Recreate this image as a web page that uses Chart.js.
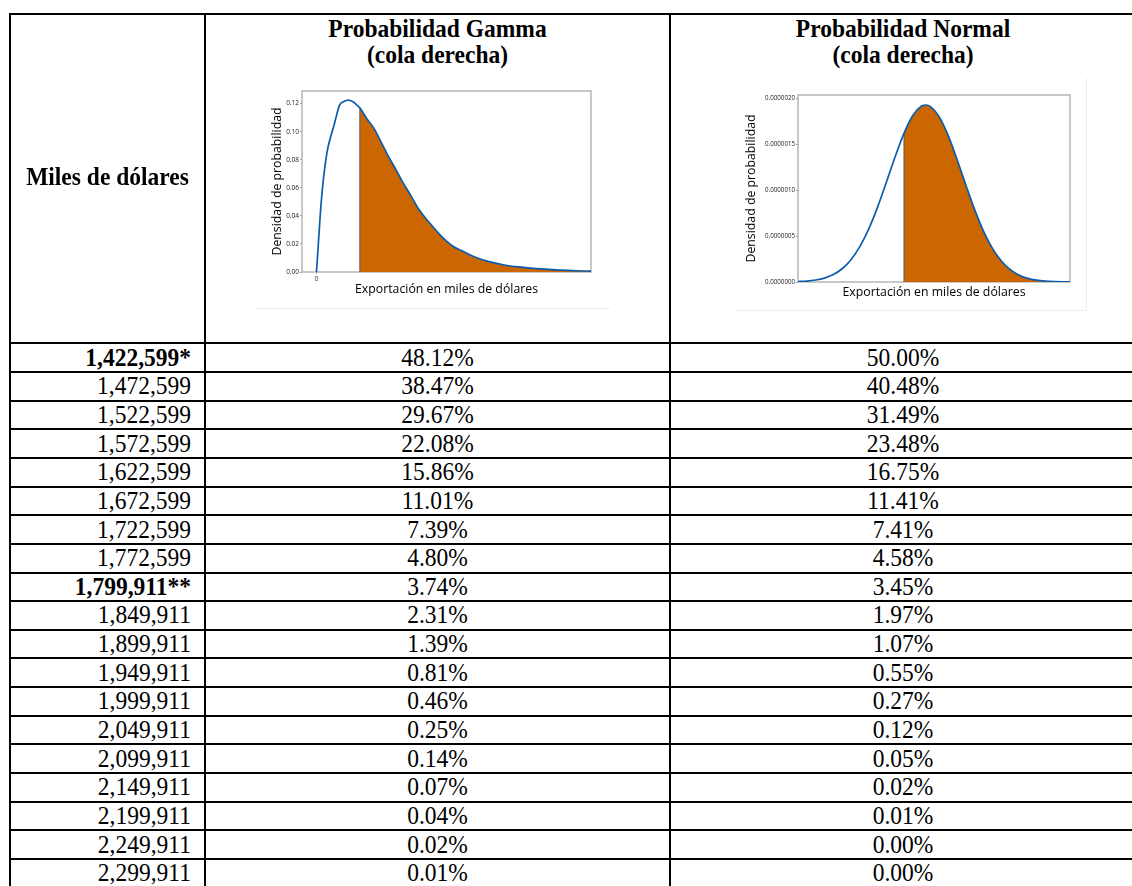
<!DOCTYPE html>
<html>
<head>
<meta charset="utf-8">
<script src="https://cdn.jsdelivr.net/npm/chart.js@4.4.1/dist/chart.umd.min.js"></script>
<style>
html, body { margin: 0; padding: 0; background: #fff; }
body { position: relative; width: 1132px; height: 886px; overflow: hidden; }
.h, .v { position: absolute; background: #000; }
.t { position: absolute; font-family: 'Liberation Serif', 'Times New Roman', serif; font-size: 23.5px; line-height: 23.5px;
     white-space: nowrap; color: #000; transform: scaleY(1.1); transform-origin: 0 19.7px; }
.b { font-weight: bold; }
#gw { position: absolute; left: 256px; top: 84px; width: 354px; height: 224px; border-bottom: 1px solid #ededed; }
#nw { position: absolute; left: 736px; top: 78px; width: 350px; height: 232px; border-right: 1px solid #ededed; border-bottom: 1px solid #ededed; }
</style>
</head>
<body>
<div id="gw"><canvas id="gamma" width="354" height="224"></canvas></div>
<div id="nw"><canvas id="normal" width="350" height="232"></canvas></div>
<script>
// tabla
var montos = [1422599, 1472599, 1522599, 1572599, 1622599, 1672599, 1722599, 1772599, 1799911, 1849911,
              1899911, 1949911, 1999911, 2049911, 2099911, 2149911, 2199911, 2249911, 2299911];
var marcas = {0: '*', 8: '**'};
var probGamma = [48.12, 38.47, 29.67, 22.08, 15.86, 11.01, 7.39, 4.80, 3.74, 2.31,
                 1.39, 0.81, 0.46, 0.25, 0.14, 0.07, 0.04, 0.02, 0.01];
var probNormal = [50.00, 40.48, 31.49, 23.48, 16.75, 11.41, 7.41, 4.58, 3.45, 1.97,
                  1.07, 0.55, 0.27, 0.12, 0.05, 0.02, 0.01, 0.00, 0.00];

// curva gamma (unidades del eje, densidad)
var gammaX = [0, 0.1, 0.2, 0.3, 0.4, 0.5, 0.65, 0.8, 1.0, 1.2, 1.4, 1.6, 1.9, 2.2, 2.5, 2.8, 3.0, 3.5, 4.0, 4.5,
              5.0, 5.5, 6.0, 6.5, 7.0, 7.5, 8.0, 8.5, 9.0, 9.5, 10, 11, 12, 13, 14, 15, 16, 17, 18, 19];
var gammaY = [0, 0.015, 0.031, 0.046, 0.058, 0.068, 0.080, 0.089, 0.097, 0.104, 0.112, 0.119, 0.1215, 0.1225, 0.1215, 0.119, 0.117, 0.109, 0.102, 0.092,
              0.082, 0.073, 0.0635, 0.055, 0.046, 0.039, 0.033, 0.027, 0.022, 0.018, 0.0155, 0.0105, 0.0072, 0.0050, 0.0036, 0.0026, 0.0019, 0.0013, 0.0009, 0.0006];
var gammaCorte = 3.0;

// curva normal (miles de dolares, densidad x 10^-6)
var normalX = [700000, 750000, 800000, 850000, 900000, 950000, 1000000, 1050000, 1100000, 1150000, 1200000, 1250000,
               1300000, 1350000, 1400000, 1425000, 1450000, 1500000, 1550000, 1600000, 1650000, 1700000, 1750000, 1800000,
               1850000, 1900000, 1950000, 2000000, 2050000, 2100000, 2150000, 2200000, 2240000];
var normalY = [0.0045, 0.0101, 0.0214, 0.0428, 0.081, 0.144, 0.242, 0.385, 0.575, 0.813, 1.084, 1.364,
               1.619, 1.813, 1.916, 1.927, 1.910, 1.798, 1.596, 1.337, 1.057, 0.788, 0.555, 0.369,
               0.231, 0.137, 0.076, 0.040, 0.020, 0.0093, 0.0041, 0.0017, 0.0008];
var normalCorte = 1300000;

// --- dibujar la tabla ---
var filaTop = 343.3, filaAlto = 28.65;
function linea(cls, x, y, w, h) {
  var d = document.createElement('div');
  d.className = cls;
  d.style.left = Math.round(x) + 'px'; d.style.top = Math.round(y) + 'px';
  d.style.width = w + 'px'; d.style.height = h + 'px';
  document.body.appendChild(d);
}
function texto(s, x, base, alinear, negrita) {
  var d = document.createElement('div');
  d.className = 't' + (negrita ? ' b' : '');
  d.textContent = s;
  d.style.top = (base - 19.7) + 'px';
  if (alinear == 'right') { d.style.left = '0px'; d.style.width = x + 'px'; d.style.textAlign = 'right'; }
  else { d.style.left = (x - 200) + 'px'; d.style.width = '400px'; d.style.textAlign = 'center'; }
  document.body.appendChild(d);
}
linea('h', 9, 13, 1130, 2);
for (var i = 0; i < montos.length; i++) linea('h', 9, filaTop + i * filaAlto - 1, 1130, 2);
[9, 204, 669].forEach(function(x) { linea('v', x, 13, 2, 880); });

texto('Miles de dólares', 107.5, 186, 'center', true);
texto('Probabilidad Gamma', 437.5, 37.3, 'center', true);
texto('(cola derecha)', 437.5, 63.5, 'center', true);
texto('Probabilidad Normal', 903, 37.3, 'center', true);
texto('(cola derecha)', 903, 63.5, 'center', true);
montos.forEach(function(m, i) {
  var base = filaTop + i * filaAlto + 23;
  texto(m.toLocaleString('en-US') + (marcas[i] || ''), 191, base, 'right', i in marcas);
  texto(probGamma[i].toFixed(2) + '%', 437.5, base, 'center', false);
  texto(probNormal[i].toFixed(2) + '%', 903, base, 'center', false);
});

// --- graficos ---
var marco = {
  id: 'marco',
  beforeDatasetsDraw: function(chart) {
    var a = chart.chartArea, ctx = chart.ctx;
    ctx.save();
    ctx.strokeStyle = '#a4a4a4';
    ctx.lineWidth = 1.2;
    ctx.strokeRect(a.left, a.top, a.right - a.left, a.bottom - a.top);
    ctx.restore();
  }
};

function grafico(id, xs, ys, corte, o) {
  var puntos = xs.map(function(x, i) { return {x: x, y: ys[i] * o.escala}; });
  var cola = puntos.filter(function(p) { return p.x >= corte; });
  var yCorte = cola[0].y;
  return new Chart(id, {
    type: 'line',
    data: {
      datasets: [
        {data: puntos, borderColor: '#0b5cad', borderWidth: 1.7, pointRadius: 0, fill: false, cubicInterpolationMode: 'monotone'},
        {data: [{x: corte, y: 0}, {x: corte, y: yCorte}], borderColor: '#5c5c5c', borderWidth: 1, pointRadius: 0, fill: false},
        {data: cola, borderColor: 'rgba(0,0,0,0)', borderWidth: 0, backgroundColor: '#cc6600', pointRadius: 0, fill: 'origin', cubicInterpolationMode: 'monotone'}
      ]
    },
    options: {
      responsive: false,
      animation: false,
      layout: {padding: o.padding},
      plugins: {legend: {display: false}, tooltip: {enabled: false}},
      scales: {
        x: {
          type: 'linear', min: o.xmin, max: o.xmax,
          afterFit: function(s) { s.height = o.altoX; },
          afterBuildTicks: function(s) { s.ticks = o.ticksX; },
          ticks: {display: o.ticksX.length > 0, padding: 1, font: {family: 'Open Sans', size: 7}, color: '#333',
                  callback: function(v) { return String(v); }},
          grid: {display: o.ticksX.length > 0, drawOnChartArea: false, tickLength: 2, color: '#a4a4a4'},
          border: {display: false},
          title: {display: true, text: 'Exportación en miles de dólares', color: '#000',
                  font: {family: 'Open Sans', size: 12.3}, padding: {top: 0, bottom: o.padTituloX}}
        },
        y: {
          min: 0, max: o.ymax,
          afterFit: function(s) { s.width = o.anchoY; },
          ticks: {stepSize: o.paso, includeBounds: false, padding: 1, font: {family: 'Open Sans', size: o.fuenteY}, color: '#222',
                  callback: function(v) { return v.toFixed(o.decimales); }},
          grid: {drawOnChartArea: false, tickLength: 2, color: '#a4a4a4'},
          border: {display: false},
          title: {display: true, text: 'Densidad de probabilidad', color: '#000',
                  font: {family: 'Open Sans', size: 12.3}, padding: {top: o.padTituloY, bottom: 0}}
        }
      }
    },
    plugins: [marco]
  });
}

grafico('gamma', gammaX, gammaY, gammaCorte, {
  escala: 1, xmin: -1, xmax: 19, ticksX: [{value: 0}], ymax: 0.129, paso: 0.02, decimales: 2, fuenteY: 6.5,
  padding: {top: 7, right: 19, left: 0, bottom: 0}, altoX: 36, anchoY: 46, padTituloX: 11.6, padTituloY: 14.1
});
grafico('normal', normalX, normalY, normalCorte, {
  escala: 1e-6, xmin: 700000, xmax: 2240000, ticksX: [], ymax: 2.036e-6, paso: 5e-7, decimales: 7, fuenteY: 6.2,
  padding: {top: 17, right: 16, left: 0, bottom: 0}, altoX: 28, anchoY: 62, padTituloX: 9.9, padTituloY: 8.3
});
</script>
</body>
</html>
